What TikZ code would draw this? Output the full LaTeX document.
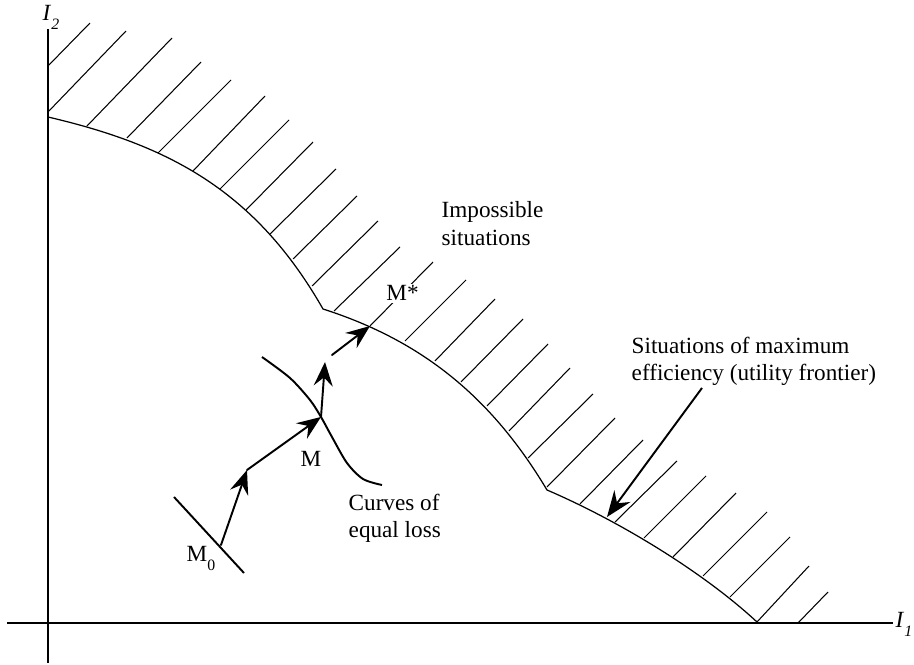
\documentclass[tikz,border=0pt]{standalone}
\usepackage{fontspec}
\setmainfont{Liberation Serif}
\usetikzlibrary{arrows.meta}
\newcommand{\lowsub}[1]{\raisebox{-5pt}{\fontsize{9}{9}\selectfont #1}}
\begin{document}
\begin{tikzpicture}[
  x=0.02cm, y=-0.02cm,
  axis/.style={line width=0.8pt},
  front/.style={line width=0.7pt},
  hatch/.style={line width=0.6pt},
  walk/.style={line width=1.1pt, line cap=round, -{Stealth[length=4.8mm, width=3.8mm, inset=1.7mm]}},
  lbl/.style={inner sep=0pt, align=left, font=\fontsize{13.2}{15.9}\selectfont},
  thick
]
  \useasboundingbox (0,0) rectangle (914,665);

  % Axes
  \coordinate (xl) at (7,623);
  \coordinate (xr) at (893,623);
  \coordinate (yb) at (48,663);
  \coordinate (yt) at (48,29);
  \draw[axis] (xl) -- (xr);
  \draw[axis] (yb) -- (yt);
  \node[lbl, anchor=base west] (I1) at (895,628) {\textit{I}\lowsub{\itshape 1}};
  \node[lbl, anchor=base west] (I2) at (42,21) {\textit{I}\lowsub{\itshape 2}};

  % Utility frontier (three pieces)
  \coordinate (f0) at (48,117);
  \coordinate (k1) at (323,309);
  \coordinate (k2) at (547,490);
  \coordinate (f3) at (757,622);
  \draw[front] (f0) .. controls (168,145) and (255,190) .. (k1)
    .. controls (423,341) and (492,398) .. (k2)
    .. controls (617,520) and (702,571) .. (f3);

  % Hatching of the impossible region
  \foreach \xa/\ya/\xb/\yb in {48/66/90/23, 48/112/126/31, 87/126/172/38, 127/138/201/62,
    158/153/231/80, 193/171/265/96, 220/189/289/120, 246/210/313/142, 270/234/336/169,
    293/259/357/196, 312/286/378/221, 334/311/400/247, 370/326/433/262, 405/341/466/280,
    435/361/495/299, 461/382/523/319, 487/406/548/344, 509/431/570/368, 528/458/593/394,
    547/487/615/418, 580/504/643/440, 615/522/677/461, 644/538/706/476, 673/557/736/493,
    703/576/767/512, 730/597/790/537, 757/622/809/566, 798/623/828/592}
    \draw[hatch] (\xa,\ya) -- (\xb,\yb);

  % Points of the adjustment path
  \coordinate (M0) at (221,545);
  \coordinate (P1) at (247,470);
  \coordinate (M) at (321,417);
  \coordinate (P2) at (325,362);
  \coordinate (Q) at (332,355);
  \coordinate (Mstar) at (370,326);

  % Curves of equal loss
  \coordinate (c0a) at (174,497);
  \coordinate (c0b) at (244,573);
  \draw[line width=1.1pt] (c0a) -- (c0b);
  \draw[line width=1.1pt] plot[smooth] coordinates {(262,357) (290,378) (310,400) (321,417)
    (332,437) (347,463) (363,479) (382,485)};

  % Path towards M*
  \draw[walk] (M0) -- (P1);
  \draw[walk] (P1) -- (M);
  \draw[walk] (M) -- (P2);
  \draw[walk] (Q) -- (Mstar);

  % Labels
  \node[lbl, anchor=base west] (m0) at (186,562) {M\lowsub{0}};
  \node[lbl, anchor=base west] (m) at (300,467) {M};
  \node[lbl, anchor=base west, fill=white, inner sep=1pt] (mstar) at (384,301) {M*};
  \node[lbl, anchor=north west] (curves) at (348,493) {Curves of\\equal loss};
  \node[lbl, anchor=north west] (imposs) at (441,201) {Impossible\\situations};
  \node[lbl, anchor=north west] (maxeff) at (631,336) {Situations of maximum\\efficiency (utility frontier)};

  % Pointer to the frontier
  \coordinate (pt) at (607,517);
  \draw[line width=1.1pt, -{Stealth[length=5.2mm, width=4mm, inset=1.8mm]}] (702,388) -- (pt);
\end{tikzpicture}
\end{document}
